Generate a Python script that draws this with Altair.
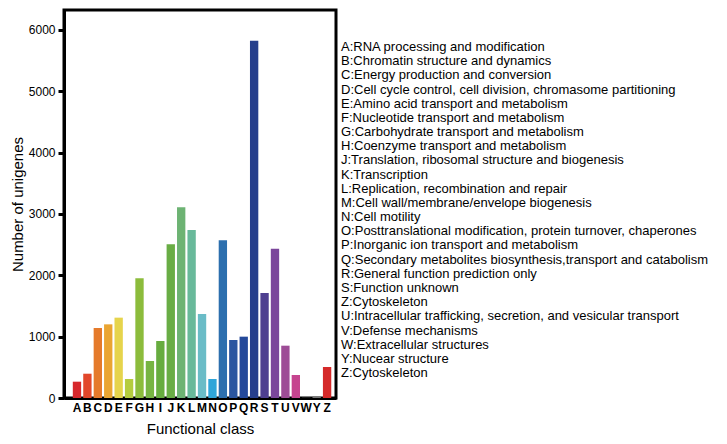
import altair as alt
import pandas as pd

letters = ["A","B","C","D","E","F","G","H","I","J","K","L","M","N","O","P","Q","R","S","T","U","V","W","Y","Z"]
counts = [266, 396, 1141, 1201, 1310, 310, 1951, 603, 929, 2505, 3109, 2739, 1370, 310,
          2571, 946, 1000, 5826, 1712, 2435, 853, 375, 5, 25, 505]
colors = ["#d7282c","#e2472b","#e57a2a","#eaa532","#e6d44c","#b5cc3e","#8cbc3c","#77b443",
          "#67ac3f","#69ad45","#6db373","#68b99a","#6abcc7","#2fa5d9","#2c6fae","#2a56a0",
          "#24499a","#263f8c","#4e3f90","#7b469b","#9d4c96","#c6448f","#555555","#777777","#d52a2a"]
descriptions = [
    "A:RNA processing and modification",
    "B:Chromatin structure and dynamics",
    "C:Energy production and conversion",
    "D:Cell cycle control, cell division, chromasome partitioning",
    "E:Amino acid transport and metabolism",
    "F:Nucleotide transport and metabolism",
    "G:Carbohydrate transport and metabolism",
    "H:Coenzyme transport and metabolism",
    "J:Translation, ribosomal structure and biogenesis",
    "K:Transcription",
    "L:Replication, recombination and repair",
    "M:Cell wall/membrane/envelope biogenesis",
    "N:Cell motility",
    "O:Posttranslational modification, protein turnover, chaperones",
    "P:Inorganic ion transport and metabolism",
    "Q:Secondary metabolites biosynthesis,transport and catabolism",
    "R:General function prediction only",
    "S:Function unknown",
    "Z:Cytoskeleton",
    "U:Intracellular trafficking, secretion, and vesicular transport",
    "V:Defense mechanisms",
    "W:Extracellular structures",
    "Y:Nucear structure",
    "Z:Cytoskeleton",
]

bars_df = pd.DataFrame({"cls": letters, "n": counts})
text_df = pd.DataFrame({"idx": list(range(len(descriptions))), "desc": descriptions})

FONT = "Liberation Sans"

bars = alt.Chart(bars_df).mark_bar().encode(
    x=alt.X("cls:N", sort=letters, title="Functional class",
            scale=alt.Scale(paddingInner=0.2, paddingOuter=0.65, align=0.65),
            axis=alt.Axis(labelAngle=0, labelFont=FONT, labelFontSize=12, labelFontWeight="bold",
                          labelColor="black", ticks=False, domain=True, domainColor="black",
                          domainWidth=3, labelPadding=4, labelOverlap=False,
                          titleFont=FONT, titleFontSize=15, titleFontWeight="normal",
                          titleColor="black", titlePadding=8)),
    y=alt.Y("n:Q", title="Number of unigenes",
            scale=alt.Scale(domain=[0, 6326], nice=False),
            axis=alt.Axis(values=[0, 1000, 2000, 3000, 4000, 5000, 6000], format="d", grid=False,
                          labelFont=FONT, labelFontSize=12, labelColor="black",
                          tickColor="black", tickWidth=3, tickSize=6, domainColor="black",
                          domainWidth=3, labelPadding=3,
                          titleFont=FONT, titleFontSize=15, titleFontWeight="normal",
                          titleColor="black", titlePadding=3)),
    color=alt.Color("cls:N", sort=letters,
                    scale=alt.Scale(domain=letters, range=colors), legend=None),
).properties(width=272, height=388,
             view=alt.ViewBackground(stroke="black", strokeWidth=3))

texts = alt.Chart(text_df).mark_text(align="left", baseline="middle", font=FONT,
                                      fontSize=13, color="black").encode(
    x=alt.value(0),
    y=alt.Y("idx:Q", axis=None,
            scale=alt.Scale(domain=[-2.61, 24.76], reverse=True, nice=False, zero=False)),
    text="desc:N",
).properties(width=360, height=388, view=alt.ViewBackground(stroke=None))

chart = alt.hconcat(bars, texts, spacing=3).properties(padding=0)

chart.save("out.html", embed_options={"renderer": "svg", "actions": False})
